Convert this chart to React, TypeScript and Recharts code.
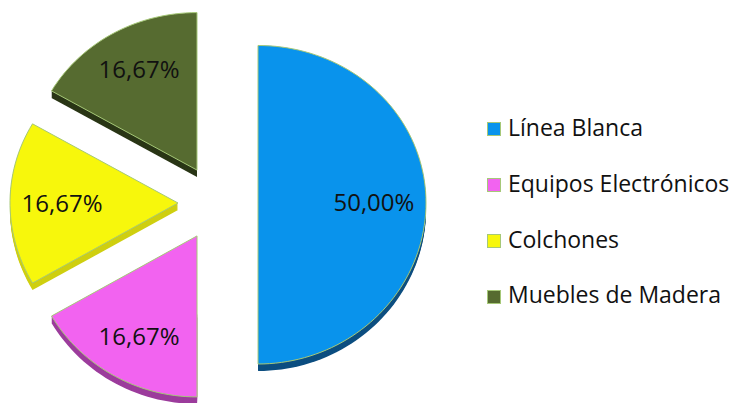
import React from 'react';
import { PieChart, Pie, Legend } from 'recharts';

const categories = ['Línea Blanca', 'Equipos Electrónicos', 'Colchones', 'Muebles de Madera'];
const shares = [50.0, 16.67, 16.67, 16.67];
const sliceLabels = ['50,00%', '16,67%', '16,67%', '16,67%'];

const FACE = ['#0993EC', '#F263F0', '#F7F70C', '#566B30'];
const SIDE = ['#0C4E80', '#9C3C9C', '#CFCF10', '#2A3616'];
const EXPLODE = [42, 38, 38, 38];
const Y_SCALE = 0.948;
const PERSP = 0.011;
const DEPTH = 7;
const RAD = Math.PI / 180;
const FONT = '"Open Sans", "Noto Sans", sans-serif';

const data = categories.map((name, i) => ({ name, value: shares[i] }));

function sectorPath(ox: number, oy: number, r: number, start: number, end: number) {
  const steps = Math.max(8, Math.ceil(Math.abs(end - start) / 2));
  let d = `M${ox.toFixed(2)},${oy.toFixed(2)}`;
  for (let s = 0; s <= steps; s++) {
    const a = (start + ((end - start) * s) / steps) * RAD;
    const lx = r * Math.cos(a);
    const ly = -r * Math.sin(a);
    const x = ox + lx;
    const y = oy + Y_SCALE * ly * (1 + (PERSP * ly) / r);
    d += ` L${x.toFixed(2)},${y.toFixed(2)}`;
  }
  return d + ' Z';
}

const renderSlice = (props: any) => {
  const { cx, cy, midAngle, outerRadius, startAngle, endAngle, index } = props;
  const d = EXPLODE[index];
  const ox = cx + d * Math.cos(midAngle * RAD);
  const oy = cy - d * Math.sin(midAngle * RAD);
  const layers = [];
  for (let k = DEPTH; k >= 1; k--) {
    layers.push(
      <path key={k} d={sectorPath(ox, oy + k, outerRadius, startAngle, endAngle)} fill={SIDE[index]} />
    );
  }
  const lr = outerRadius * 0.69;
  const tx = ox + lr * Math.cos(midAngle * RAD);
  const ty = oy - lr * Math.sin(midAngle * RAD) - 1;
  return (
    <g key={`slice-${index}`}>
      {layers}
      <path
        d={sectorPath(ox, oy, outerRadius, startAngle, endAngle)}
        fill={FACE[index]}
        stroke="#A6C878"
        strokeWidth={1}
        strokeLinejoin="round"
      />
      <text
        x={tx}
        y={ty}
        textAnchor="middle"
        dominantBaseline="central"
        fontFamily={FONT}
        fontSize={24}
        fill="#111"
      >
        {sliceLabels[index]}
      </text>
    </g>
  );
};

const renderLegend = () => (
  <div style={{ fontFamily: FONT, fontSize: 23, color: '#111' }}>
    {categories.map((c, i) => (
      <div key={c} style={{ height: 55.8, display: 'flex', alignItems: 'center' }}>
        <span
          style={{
            display: 'inline-block',
            width: 12,
            height: 12,
            background: FACE[i],
            border: '1px solid #A6C878',
            marginRight: 7,
          }}
        />
        <span style={{ lineHeight: 1, position: 'relative', top: -2 }}>{c}</span>
      </div>
    ))}
  </div>
);

export default function App() {
  return (
    <div style={{ position: 'absolute', left: 0, top: 0, background: '#fff' }}>
      <PieChart width={734} height={403} margin={{ top: 0, right: 0, bottom: 0, left: 0 }}>
        <Pie
          data={data}
          dataKey="value"
          nameKey="name"
          cx={216}
          cy={203}
          outerRadius={168}
          startAngle={90}
          endAngle={-270}
          fill="none"
          stroke="none"
          label={renderSlice}
          labelLine={false}
          isAnimationActive={false}
        />
        <Legend
          content={renderLegend}
          wrapperStyle={{ position: 'absolute', left: 487, top: 101.6, width: 247 }}
        />
      </PieChart>
    </div>
  );
}
